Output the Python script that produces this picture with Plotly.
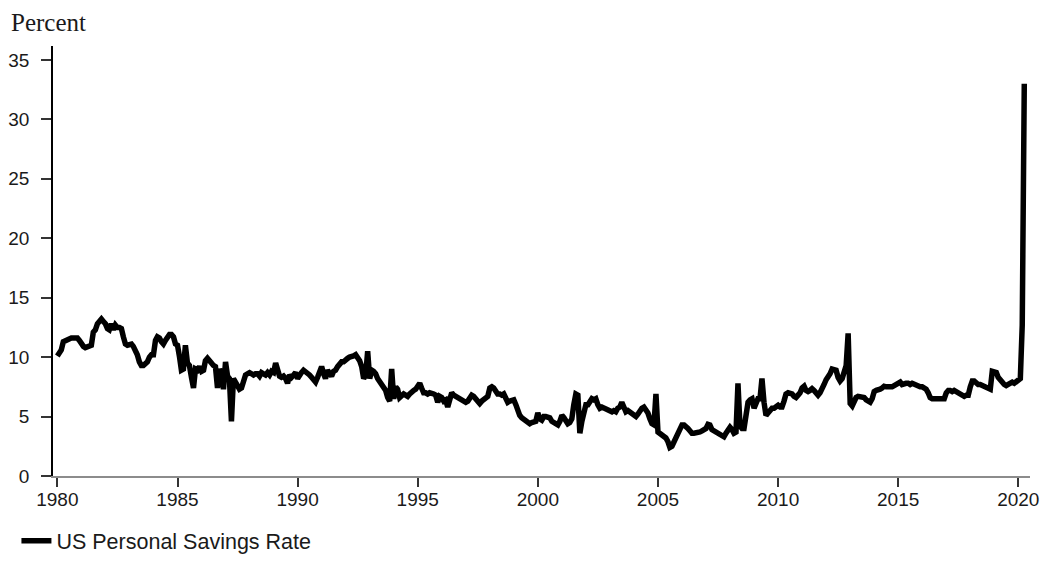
import pandas as pd
import plotly.graph_objects as go

# Monthly US personal savings rate (%), January 1980 onward
start_month = "1980-01-01"
savings_rate = [
    # 1980
    10.1, 10.3, 10.6, 11.3, 11.4, 11.4, 11.5, 11.6, 11.6, 11.6, 11.6, 11.4,
    # 1981
    11.1, 10.9, 10.8, 10.9, 10.9, 11.0, 12.1, 12.3, 12.8, 13.0, 13.2, 13.0,
    # 1982
    12.8, 12.4, 12.3, 12.8, 12.3, 12.7, 12.5, 12.5, 12.4, 11.7, 11.1, 11.0,
    # 1983
    11.0, 11.1, 10.9, 10.6, 10.2, 9.6, 9.3, 9.3, 9.4, 9.6, 10.0, 10.2,
    # 1984
    10.2, 11.4, 11.7, 11.6, 11.3, 11.1, 11.4, 11.7, 11.9, 11.9, 11.7, 11.1,
    # 1985
    11.0, 10.0, 8.9, 9.0, 11.0, 9.5, 9.3, 8.3, 7.4, 9.0, 8.9, 9.2,
    # 1986
    8.8, 8.9, 9.7, 9.9, 9.6, 9.5, 9.3, 9.2, 7.4, 9.0, 8.5, 7.3,
    # 1987
    9.6, 8.4, 8.2, 4.6, 8.2, 7.9, 7.4, 7.3, 7.4, 8.0, 8.5, 8.6,
    # 1988
    8.7, 8.6, 8.5, 8.6, 8.6, 8.4, 8.7, 8.6, 8.5, 8.7, 8.5, 8.8,
    # 1989
    8.7, 9.5, 8.8, 8.4, 8.3, 8.4, 8.2, 7.8, 8.5, 8.3, 8.5, 8.7,
    # 1990
    8.2, 8.6, 8.7, 8.9, 8.8, 8.7, 8.5, 8.3, 8.1, 7.9, 8.3, 8.8,
    # 1991
    9.2, 8.6, 8.2, 8.9, 8.6, 8.4, 8.8, 8.9, 9.2, 9.4, 9.6, 9.6,
    # 1992
    9.8, 9.9, 10.0, 10.0, 10.1, 10.2, 10.0, 9.7, 9.2, 8.2, 8.5, 10.5,
    # 1993
    8.2, 8.9, 8.8, 8.6, 8.2, 7.9, 7.7, 7.5, 7.2, 6.6, 6.3, 9.0,
    # 1994
    6.5, 7.5, 7.3, 6.6, 6.7, 6.9, 6.8, 6.7, 6.9, 7.1, 7.2, 7.3,
    # 1995
    7.5, 7.8, 7.4, 7.0, 7.0, 6.9, 7.0, 7.0, 6.9, 6.8, 6.2, 6.7,
    # 1996
    6.6, 6.3, 6.4, 5.8, 6.6, 7.0, 6.8, 6.7, 6.6, 6.5, 6.4, 6.3,
    # 1997
    6.2, 6.3, 6.5, 6.8, 6.7, 6.5, 6.2, 6.1, 6.3, 6.4, 6.5, 6.7,
    # 1998
    7.4, 7.5, 7.4, 7.0, 6.9, 6.9, 6.8, 6.9, 6.6, 6.2, 6.3, 6.4,
    # 1999
    6.4, 6.0, 5.4, 5.1, 4.9, 4.8, 4.7, 4.5, 4.4, 4.5, 4.6, 4.6,
    # 2000
    5.3, 4.8, 4.7, 5.0, 5.0, 4.9, 4.9, 4.6, 4.5, 4.4, 4.3, 4.6,
    # 2001
    5.1, 4.9, 4.6, 4.4, 4.5, 4.8, 6.0, 6.9, 6.8, 3.6, 4.6, 5.6,
    # 2002
    6.0, 6.0, 6.3, 6.5, 6.4, 6.5, 6.0, 5.7, 5.8, 5.7, 5.6, 5.5,
    # 2003
    5.5, 5.4, 5.5, 5.4, 5.7, 5.8, 6.2, 5.7, 5.4, 5.5, 5.4, 5.3,
    # 2004
    5.1, 5.0, 5.2, 5.5, 5.7, 5.8, 5.6, 5.3, 4.8, 4.4, 4.3, 6.9,
    # 2005
    3.7, 3.6, 3.5, 3.3, 3.2, 2.9, 2.4, 2.5, 2.9, 3.3, 3.6, 3.9,
    # 2006
    4.3, 4.3, 4.2, 4.0, 3.8, 3.6, 3.6, 3.6, 3.7, 3.7, 3.8, 3.85,
    # 2007
    4.0, 4.35, 4.3, 3.9, 3.8, 3.6, 3.5, 3.4, 3.4, 3.3, 3.6, 3.9,
    # 2008
    4.1, 3.9, 3.6, 3.7, 7.8, 4.2, 4.0, 4.0, 5.0, 6.2, 6.4, 6.5,
    # 2009
    5.7, 6.0, 6.5, 6.5, 8.2, 6.2, 5.1, 5.3, 5.5, 5.7, 5.7, 5.9,
    # 2010
    5.95, 5.8, 5.8, 6.3, 6.9, 7.0, 7.0, 6.9, 6.7, 6.6, 6.8, 7.0,
    # 2011
    7.4, 7.55, 7.2, 7.1, 7.2, 7.35, 7.2, 6.9, 6.8, 7.0, 7.5, 7.7,
    # 2012
    8.1, 8.3, 8.6, 9.0, 9.0, 8.9, 8.3, 8.0, 8.2, 8.7, 9.3, 12.0,
    # 2013
    6.1, 5.9, 6.3, 6.6, 6.7, 6.7, 6.7, 6.6, 6.4, 6.3, 6.2, 6.5,
    # 2014
    7.1, 7.2, 7.2, 7.3, 7.4, 7.55, 7.5, 7.5, 7.4, 7.5, 7.6, 7.7,
    # 2015
    7.9, 7.9, 7.7, 7.8, 7.8, 7.8, 7.7, 7.8, 7.7, 7.7, 7.6, 7.5,
    # 2016
    7.5, 7.4, 7.3, 7.0, 6.6, 6.5, 6.5, 6.5, 6.4, 6.5, 6.4, 6.5,
    # 2017
    7.0, 7.2, 7.2, 7.1, 7.2, 7.1, 7.0, 6.9, 6.8, 6.7, 6.8, 6.8,
    # 2018
    7.5, 8.0, 8.0, 7.8, 7.7, 7.7, 7.6, 7.6, 7.5, 7.4, 7.3, 8.8,
    # 2019
    8.8, 8.7, 8.3, 8.0, 7.9, 7.7, 7.6, 7.7, 7.8, 7.9, 7.8, 7.9,
    # 2020
    8.0, 8.2, 12.7, 33.0,
]
dates = pd.date_range(start_month, periods=len(savings_rate), freq="MS")

x_tick_vals = ["1980-01-01", "1985-01-01", "1990-01-01", "1995-01-01",
               "2000-01-01", "2005-01-01", "2010-01-01", "2015-01-01", "2020-01-01"]
x_tick_text = ["1980", "1985", "1990", "1995", "2000", "2005", "2010", "2015", "2020"]
y_tick_vals = [0, 5, 10, 15, 20, 25, 30, 35]
series_name = "US Personal Savings Rate"
axis_title = "Percent"

fig = go.Figure()
fig.add_trace(go.Scatter(
    x=dates, y=savings_rate, mode="lines", name=series_name,
    line=dict(color="#000000", width=5.5),
))

fig.update_layout(
    width=1054, height=562,
    margin=dict(l=45, r=32, t=38, b=94),
    paper_bgcolor="white", plot_bgcolor="white",
    font=dict(family="Liberation Sans, Arial, sans-serif", size=19, color="#1a1a1a"),
    showlegend=True,
    legend=dict(
        orientation="h", xref="container", yref="container",
        x=0.008, xanchor="left", y=0.052, yanchor="middle",
        font=dict(size=21.5, color="#1a1a1a"),
        bgcolor="rgba(0,0,0,0)", itemwidth=30,
    ),
    annotations=[dict(
        text=axis_title, xref="paper", yref="paper",
        x=-0.044, y=1.055, xanchor="left", yanchor="middle",
        showarrow=False, borderpad=0,
        font=dict(family="Liberation Serif, Times New Roman, serif", size=25, color="#1a1a1a"),
    )],
)

fig.update_xaxes(
    type="date", range=["1979-10-27", "2020-06-27"],
    tickvals=x_tick_vals, ticktext=x_tick_text,
    showgrid=False, zeroline=False, automargin=False,
    showline=True, linecolor="#8c8c8c", linewidth=1.5,
    ticks="outside", ticklen=9, tickwidth=1.5, tickcolor="#333333",
    ticklabelstandoff=-4,
)
fig.update_yaxes(
    range=[0, 36.17], tickvals=y_tick_vals,
    showgrid=False, zeroline=False, automargin=False,
    showline=True, linecolor="#000000", linewidth=1.5,
    ticks="outside", ticklen=10, tickwidth=1.5, tickcolor="#333333",
    ticklabelstandoff=8,
)

fig.write_html("out.html")
